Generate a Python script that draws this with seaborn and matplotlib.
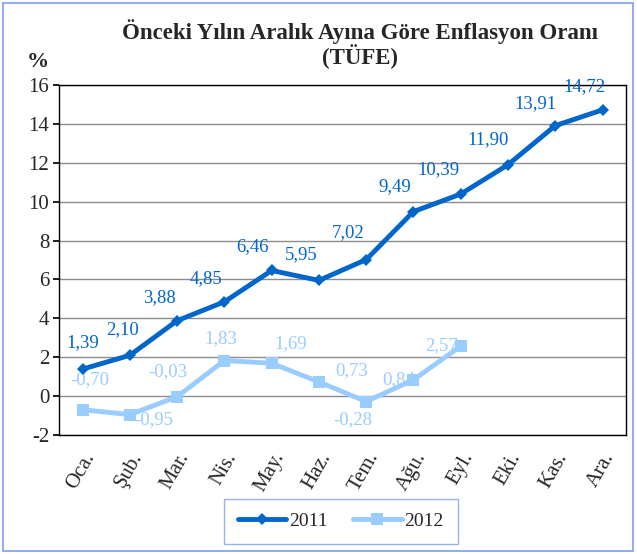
import numpy as np
import pandas as pd
import matplotlib.pyplot as plt
import seaborn as sns
from matplotlib.patches import Rectangle
from matplotlib.lines import Line2D

# ── Data ─────────────────────────────────────────────────────────────────────
months = ["Oca.", "Şub.", "Mar.", "Nis.", "May.", "Haz.",
          "Tem.", "Ağu.", "Eyl.", "Eki.", "Kas.", "Ara."]
values_2011 = [1.39, 2.10, 3.88, 4.85, 6.46, 5.95, 7.02, 9.49, 10.39, 11.90, 13.91, 14.72]
values_2012 = [-0.70, -0.95, -0.03, 1.83, 1.69, 0.73, -0.28, 0.84, 2.57]
y_ticks = [-2, 0, 2, 4, 6, 8, 10, 12, 14, 16]

# label offsets in pixels (dx, dy)
offs_2011 = [(0, 26), (-7, 26), (-18, 23), (-18, 23), (-19, 24), (-18, 26),
             (-18, 27), (-19, 25), (-22, 24), (-20, 25), (-20, 22), (-18, 23)]
offs_2012 = [(7, 30), (24, -5), (-9, 25), (-4, 22), (19, 20), (33, 11),
             (-13, -18), (-15, 0), (-19, 1)]

c2011 = "#0066CC"
c2012 = "#99CCFF"

df11 = pd.DataFrame({"idx": np.arange(len(values_2011)), "val": values_2011})
df12 = pd.DataFrame({"idx": np.arange(len(values_2012)), "val": values_2012})

# ── Plot ─────────────────────────────────────────────────────────────────────
sns.set_theme(style="white")
plt.rcParams["font.family"] = ["Liberation Serif", "DejaVu Serif"]

fig = plt.figure(figsize=(6.37, 5.54), dpi=100)
ax = fig.add_axes([0.0926, 0.2148, 0.8904, 0.6318])

sns.lineplot(data=df11, x="idx", y="val", ax=ax, color=c2011, linewidth=3.5,
             marker="D", markersize=6, markeredgewidth=0, zorder=4)
sns.lineplot(data=df12, x="idx", y="val", ax=ax, color=c2012, linewidth=3.5,
             marker="s", markersize=8, markeredgewidth=0, zorder=3)

for i, (v, o) in enumerate(zip(values_2011, offs_2011)):
    ax.annotate(f"{v:.2f}".replace(".", ","), (i, v), xytext=o,
                textcoords="offset pixels", ha="center", va="center",
                fontsize=13.5, color=c2011, zorder=5)
for i, (v, o) in enumerate(zip(values_2012, offs_2012)):
    ax.annotate(f"{v:.2f}".replace(".", ","), (i, v), xytext=o,
                textcoords="offset pixels", ha="center", va="center",
                fontsize=13.5, color=c2012, zorder=2)

ax.set_xlim(-0.5, len(months) - 0.5)
ax.set_ylim(-2, 16)
ax.set_yticks(y_ticks)
ax.set_yticklabels([str(t) for t in y_ticks], fontsize=15)
ax.set_xticks(np.arange(len(months)))
ax.set_xticklabels(months, rotation=60, ha="right", rotation_mode="anchor", fontsize=15)
ax.set_xlabel("")
ax.set_ylabel("")
ax.grid(axis="y", color="#8c8c8c", linewidth=1)
ax.set_axisbelow(True)
for s in ax.spines.values():
    s.set_color("black")
    s.set_linewidth(1)
ax.tick_params(axis="y", left=True, length=4, color="black", pad=3)
ax.tick_params(axis="x", bottom=False, pad=4)

fig.text(0.565, 0.943, "Önceki Yılın Aralık Ayına Göre Enflasyon Oranı",
         ha="center", va="center", fontsize=16.5, fontweight="bold")
fig.text(0.565, 0.897, "(TÜFE)", ha="center", va="center", fontsize=16.5, fontweight="bold")
fig.text(0.06, 0.888, "%", ha="center", va="center", fontsize=16, fontweight="bold")

handles = [Line2D([], [], color=c2011, lw=3.5, marker="D", markersize=6, markeredgewidth=0),
           Line2D([], [], color=c2012, lw=3.5, marker="s", markersize=8, markeredgewidth=0)]
leg = fig.legend(handles, ["2011", "2012"], loc="center", bbox_to_anchor=(0.535, 0.059),
                 ncol=2, frameon=True, fancybox=False, fontsize=14, handlelength=2.5,
                 columnspacing=1.3, handletextpad=0.15, borderpad=0.7, borderaxespad=0)
leg.get_frame().set_edgecolor("#7F9FEF")
leg.get_frame().set_linewidth(1)

fig.patches.append(Rectangle((0.004, 0.006), 0.99, 0.988, transform=fig.transFigure,
                             fill=False, edgecolor="#7F9FEF", linewidth=1.2))

fig.savefig("out.png", dpi=100)
